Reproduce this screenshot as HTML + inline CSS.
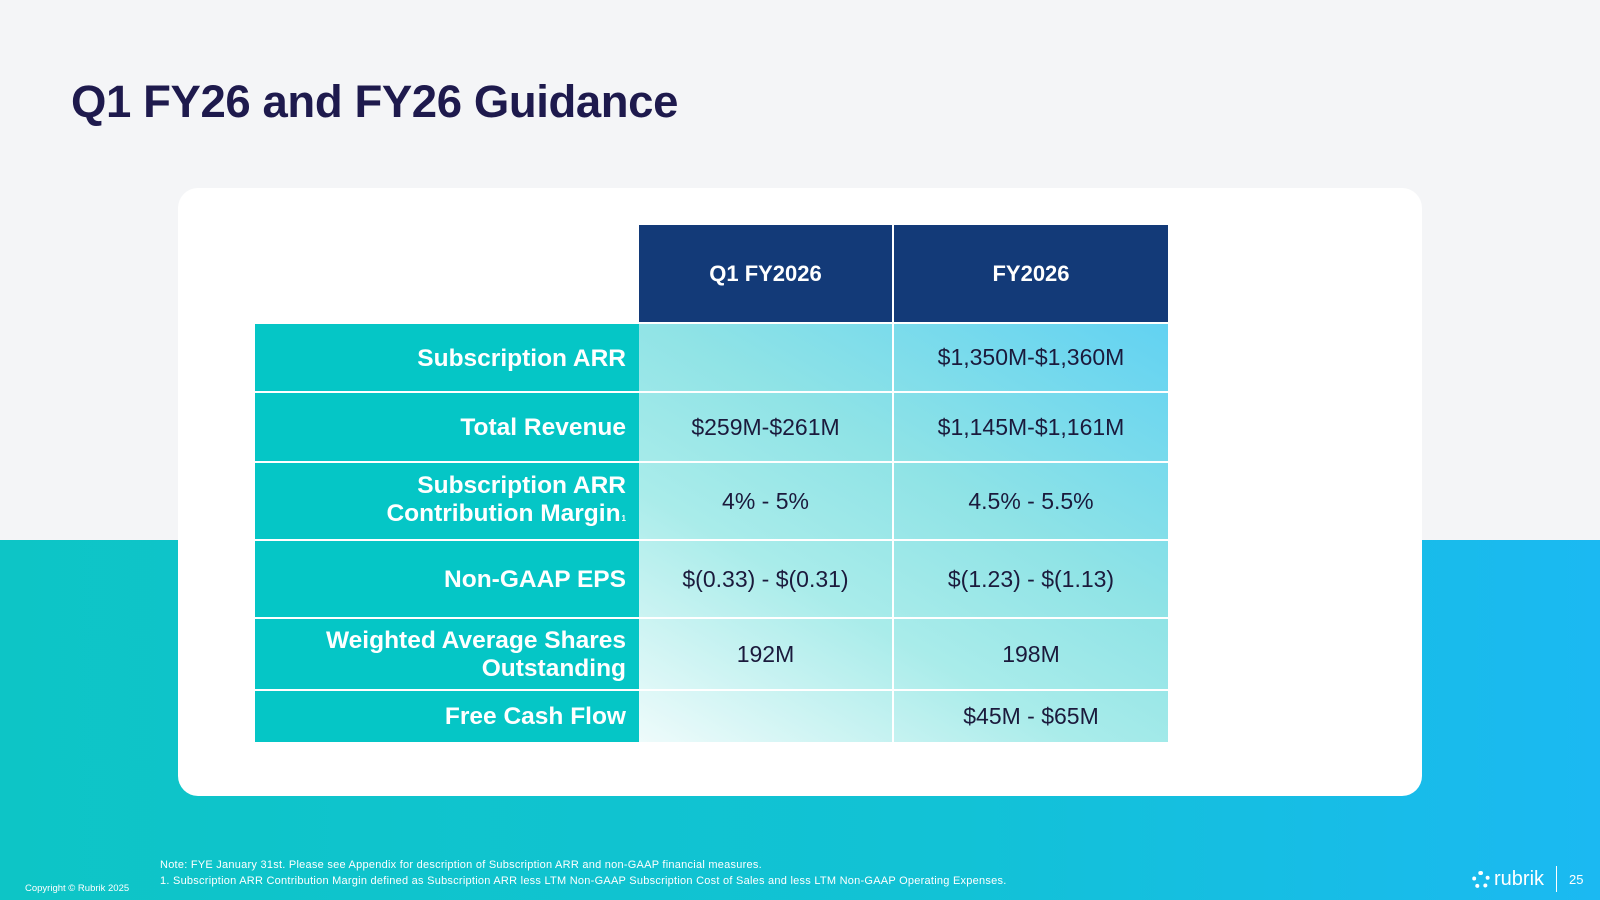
<!DOCTYPE html>
<html><head><meta charset="utf-8"><style>
*{margin:0;padding:0;box-sizing:border-box}
body{width:1600px;height:900px;position:relative;overflow:hidden;font-family:"Liberation Sans",Arial,sans-serif;background:#f4f5f7}
.bot{position:absolute;left:0;top:540px;width:1600px;height:360px;background:linear-gradient(90deg,#0dc5c6 0%,#12c2d6 60%,#1bb9f2 100%)}
.title{position:absolute;left:71px;top:76px;font-size:45.5px;font-weight:bold;color:#1e1a4d;letter-spacing:-0.4px}
.card{position:absolute;left:178px;top:188px;width:1244px;height:608px;background:#fff;border-radius:20px}
.hd{position:absolute;top:225px;height:97px;background:#133a78;color:#fff;font-weight:bold;font-size:22px;display:flex;align-items:center;justify-content:center}
.lab{position:absolute;left:255px;width:384px;background:#05c6c6;color:#fff;font-weight:bold;font-size:24.5px;text-align:right;padding-right:13px;display:flex;align-items:center;justify-content:flex-end;line-height:28px}
.val{position:absolute;color:#1b1a3c;font-size:23px;display:flex;align-items:center;justify-content:center}
.c1{left:639px;width:253px}
.c2{left:894px;width:274px}
.grad{position:absolute;left:639px;top:324px;width:529px;height:418px;background:linear-gradient(30deg,#eefbfb 0%,#a9ecea 35%,#8fe3e6 60%,#62d2f2 100%)}
.vl{position:absolute;left:892px;top:324px;width:2px;height:418px;background:#fff}
.hl{position:absolute;left:255px;width:913px;height:2px;background:#fff}
.note{position:absolute;left:160px;color:#fff;font-size:11px;letter-spacing:0.25px;white-space:nowrap}
</style></head><body>
<div class="bot"></div>
<div class="title">Q1 FY26 and FY26 Guidance</div>
<div class="card"></div>
<div class="hd" style="left:639px;width:253px">Q1 FY2026</div>
<div class="hd" style="left:894px;width:274px">FY2026</div>
<div class="grad"></div>
<div class="vl"></div>

<div class="lab" style="top:324px;height:69px">Subscription ARR</div>
<div class="lab" style="top:393px;height:70px">Total Revenue</div>
<div class="lab" style="top:463px;height:78px"><span>Subscription ARR<br>Contribution Margin<span style="font-size:8px;margin-left:1px">1</span></span></div>
<div class="lab" style="top:541px;height:78px">Non-GAAP EPS</div>
<div class="lab" style="top:619px;height:72px"><span>Weighted Average Shares<br>Outstanding</span></div>
<div class="lab" style="top:691px;height:51px">Free Cash Flow</div>

<div class="hl" style="top:391px"></div>
<div class="hl" style="top:461px"></div>
<div class="hl" style="top:539px"></div>
<div class="hl" style="top:617px"></div>
<div class="hl" style="top:689px"></div>

<div class="val c2" style="top:324px;height:67px">$1,350M-$1,360M</div>
<div class="val c1" style="top:393px;height:68px">$259M-$261M</div>
<div class="val c2" style="top:393px;height:68px">$1,145M-$1,161M</div>
<div class="val c1" style="top:463px;height:76px">4% - 5%</div>
<div class="val c2" style="top:463px;height:76px">4.5% - 5.5%</div>
<div class="val c1" style="top:541px;height:76px">$(0.33) - $(0.31)</div>
<div class="val c2" style="top:541px;height:76px">$(1.23) - $(1.13)</div>
<div class="val c1" style="top:619px;height:70px">192M</div>
<div class="val c2" style="top:619px;height:70px">198M</div>
<div class="val c2" style="top:691px;height:51px">$45M - $65M</div>

<div class="note" style="top:859px">Note: FYE January 31st. Please see Appendix for description of Subscription ARR and non-GAAP financial measures.</div>
<div class="note" style="top:875px">1. Subscription ARR Contribution Margin defined as Subscription ARR less LTM Non-GAAP Subscription Cost of Sales and less LTM Non-GAAP Operating Expenses.</div>
<div style="position:absolute;left:25px;top:883px;color:#fff;font-size:9.5px">Copyright © Rubrik 2025</div>
<div style="position:absolute;left:1472px;top:868px;color:#fff;font-size:20px;display:flex;align-items:center;gap:4px"><span style="display:inline-block;width:18px;height:18px;border:4px dotted #fff;border-radius:50%"></span>rubrik</div>
<div style="position:absolute;left:1556px;top:866px;width:1px;height:26px;background:#fff"></div>
<div style="position:absolute;left:1569px;top:872px;color:#fff;font-size:13px">25</div>
</body></html>
